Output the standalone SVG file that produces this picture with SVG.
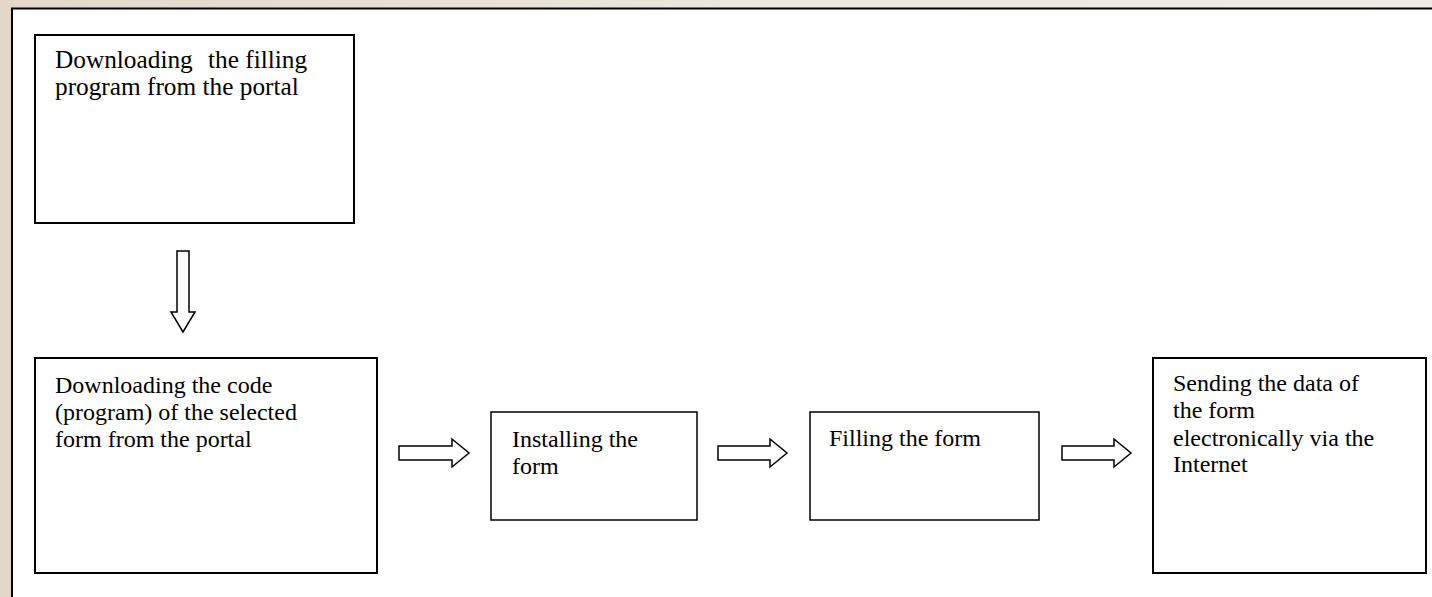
<svg xmlns="http://www.w3.org/2000/svg" width="1432" height="597" viewBox="0 0 1432 597">
<defs>
<linearGradient id="bg" x1="0" y1="0" x2="1" y2="0">
<stop offset="0" stop-color="#e3d8c8"/>
<stop offset="0.5" stop-color="#ece6dc"/>
<stop offset="1" stop-color="#efebe4"/>
</linearGradient>
</defs>
<style>
.box{fill:#fff;stroke:#000;stroke-width:2}
.thin{fill:#fff;stroke:#000;stroke-width:1.5}
.arrow{fill:#fff;stroke:#000;stroke-width:1.5;stroke-linejoin:miter}
text{font-family:"Liberation Serif","Times New Roman",serif;font-size:24px;fill:#000}
.big{font-size:25.3px}
</style>
<rect x="0" y="0" width="1432" height="597" fill="url(#bg)"/>
<rect id="frame" x="12" y="8.5" width="1440" height="610" fill="#fff" stroke="#000" stroke-width="2"/>
<g id="connectors">
<path class="arrow" d="M177,251 H189 V312 H195 L183,332 L171,312 H177 Z"/>
<path class="arrow" d="M399,446 H452 V439 L469,453 L452,467 V460 H399 Z"/>
<path class="arrow" d="M718,446 H770 V439 L787,453 L770,467 V460 H718 Z"/>
<path class="arrow" d="M1062,446 H1114 V439 L1131,453 L1114,467 V460 H1062 Z"/>
</g>
<g id="n1">
<rect class="box" x="35" y="35" width="319" height="188"/>
<text class="big" x="55" y="68" xml:space="preserve">Downloading  <tspan x="208">the filling</tspan></text>
<text class="big" x="55" y="95">program from the portal</text>
</g>
<g id="n2">
<rect class="box" x="35" y="358" width="342" height="215"/>
<text x="55" y="393">Downloading the code</text>
<text x="55" y="420">(program) of the selected</text>
<text x="55" y="447">form from the portal</text>
</g>
<g id="n3">
<rect class="thin" x="491" y="412" width="206" height="108"/>
<text x="512" y="447">Installing the</text>
<text x="512" y="474">form</text>
</g>
<g id="n4">
<rect class="thin" x="810" y="412" width="229" height="108"/>
<text x="829" y="446">Filling the form</text>
</g>
<g id="n5">
<rect class="box" x="1153" y="358" width="273" height="215"/>
<text x="1173" y="391">Sending the data of</text>
<text x="1173" y="418">the form</text>
<text x="1173" y="446">electronically via the</text>
<text x="1173" y="472">Internet</text>
</g>
</svg>
